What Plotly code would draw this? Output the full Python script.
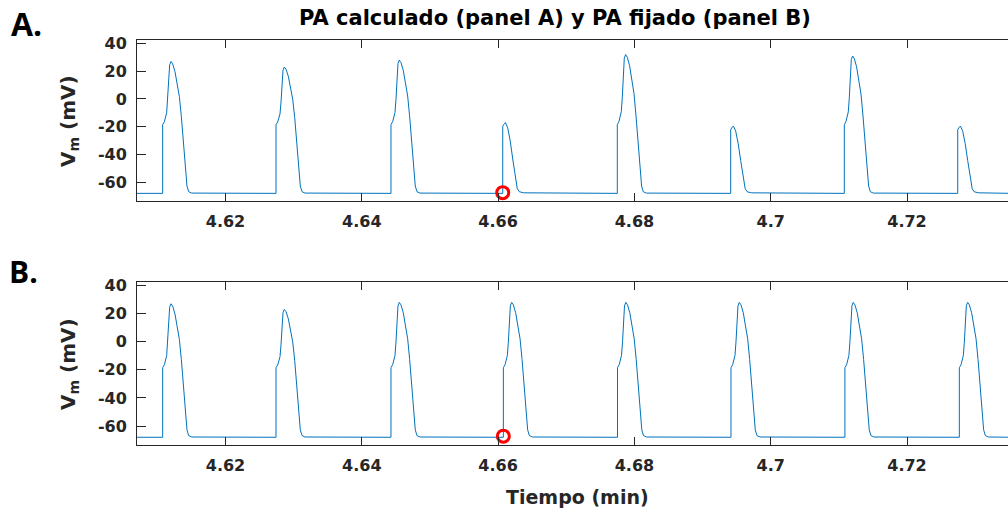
import plotly.graph_objects as go

W, H = 1008, 512

# Spike onset times (min) and peak membrane potential (mV) for each panel
onsets_a = [4.61078, 4.62741, 4.64428, 4.66068, 4.67749, 4.69413, 4.71080, 4.72744]
peaks_a = [27, 23, 28, -17, 32, -19.5, 31, -19.5]
onsets_b = [4.61078, 4.62741, 4.64428, 4.66077, 4.67752, 4.69417, 4.71089, 4.72768]
peaks_b = [27, 23, 28, 28, 28, 28, 28, 28]

# Highlighted stimulus instant in each panel
mark_a_t, mark_a_v = [4.66068], [-67.5]
mark_b_t, mark_b_v = [4.66077], [-67.2]

rest_mv = -68.0
t_start, t_end = 4.6065, 4.7355

# Full action potential waveform: offset after onset (min) and voltage (mV)
full_dt = [0, 0, 0.000249, 0.000587, 0.000734, 0.000880, 0.001027, 0.001218,
           0.001467, 0.001805, 0.002157, 0.002451, 0.002744, 0.003038,
           0.003331, 0.003566, 0.003815, 0.004255]
full_v = [-68, -18.5, -16.4, -10.0, -0.8, 13.6, 24.4, 26.8,
          25.1, 19.6, 11.2, 1.6, -12.8, -29.6,
          -48.8, -62.7, -66.8, -67.8]
full_shoulder = -18.5

# Truncated (failed) response waveform
small_dt = [0, 0, 0.000147, 0.000396, 0.000734, 0.001101, 0.001467,
            0.001834, 0.002128, 0.002421, 0.003082]
small_v = [-68, -19.5, -18.0, -16.6, -20.5, -30.0, -43.0,
           -57.0, -64.5, -66.8, -67.6]


def spike_points(t0, peak):
    xs, ys = [], []
    if peak > 0:
        top = max(full_v)
        k = (peak - full_shoulder) / (top - full_shoulder)
        for dt, v in zip(full_dt, full_v):
            xs.append(t0 + dt)
            ys.append(full_shoulder + (v - full_shoulder) * k if v > full_shoulder else v)
    else:
        top = max(small_v)
        k = (peak - rest_mv) / (top - rest_mv)
        for dt, v in zip(small_dt, small_v):
            xs.append(t0 + dt)
            ys.append(rest_mv + (v - rest_mv) * k)
    return xs, ys


def build_trace(onsets, peaks):
    xs, ys = [t_start], [rest_mv]
    for t0, pk in zip(onsets, peaks):
        sx, sy = spike_points(t0, pk)
        xs += sx
        ys += sy
    xs.append(t_end)
    ys.append(rest_mv)
    return xs, ys


xa, ya = build_trace(onsets_a, peaks_a)
xb, yb = build_trace(onsets_b, peaks_b)

x_ticks = [4.62, 4.64, 4.66, 4.68, 4.70, 4.72]
x_labels = ["4.62", "4.64", "4.66", "4.68", "4.7", "4.72"]
y_ticks = [-60, -40, -20, 0, 20, 40]
y_labels = ["-60", "-40", "-20", "0", "20", "40"]

line_color = "#0072BD"
axis_color = "#262626"

circle = dict(symbol="circle-open", size=12, color="#FF0000",
              line=dict(width=3, color="#FF0000"))

fig = go.Figure()
fig.add_trace(go.Scatter(x=xa, y=ya, mode="lines", xaxis="x", yaxis="y",
                         line=dict(color=line_color, width=1), hoverinfo="skip"))
fig.add_trace(go.Scatter(x=mark_a_t, y=mark_a_v, mode="markers", xaxis="x", yaxis="y",
                         marker=circle, cliponaxis=False))
fig.add_trace(go.Scatter(x=xb, y=yb, mode="lines", xaxis="x2", yaxis="y2",
                         line=dict(color=line_color, width=1), hoverinfo="skip"))
fig.add_trace(go.Scatter(x=mark_b_t, y=mark_b_v, mode="markers", xaxis="x2", yaxis="y2",
                         marker=circle, cliponaxis=False))

tick_font = dict(family="DejaVu Sans", size=16, color=axis_color, weight="bold")
x_left = 137 / W
x_range = [4.607014, 4.734820]
y_range = [-73.5, 42.5]


def px_dom(top_px, bottom_px):
    return [1 - bottom_px / H, 1 - top_px / H]


xcommon = dict(range=x_range, domain=[x_left, 1], showline=True, linecolor=axis_color,
               linewidth=1, mirror="ticks", ticks="inside", ticklen=8, tickwidth=1,
               tickcolor=axis_color, tickvals=x_ticks, ticktext=x_labels,
               showgrid=False, zeroline=False, tickfont=tick_font, ticklabelstandoff=6,
               automargin=False)
ycommon = dict(range=y_range, showline=True, linecolor=axis_color, linewidth=1,
               ticks="inside", ticklen=9, tickwidth=1, tickcolor=axis_color,
               tickvals=y_ticks, ticktext=y_labels, showgrid=False, zeroline=False,
               tickfont=tick_font, ticklabelstandoff=6, automargin=False)

fig.update_layout(
    width=W, height=H,
    margin=dict(l=0, r=0, t=0, b=0, pad=0, autoexpand=False),
    paper_bgcolor="white", plot_bgcolor="white",
    showlegend=False,
    xaxis=dict(anchor="y", **xcommon),
    yaxis=dict(anchor="x", domain=px_dom(40, 201), **ycommon),
    xaxis2=dict(anchor="y2", **xcommon),
    yaxis2=dict(anchor="x2", domain=px_dom(282, 445), **ycommon),
)

label_font = dict(family="DejaVu Sans", size=20, color=axis_color, weight="bold")
annotations = [
    dict(text="PA calculado (panel A) y PA fijado (panel B)", x=555 / W, y=1 - 18 / H,
         font=dict(family="DejaVu Sans", size=21, color="#000000", weight="bold")),
    dict(text="A.", x=26 / W, y=1 - 23 / H,
         font=dict(family="Open Sans", size=32, color="#000000", weight="bold")),
    dict(text="B.", x=23 / W, y=1 - 271 / H,
         font=dict(family="Open Sans", size=30, color="#000000", weight="bold")),
    dict(text="V<sub>m</sub> (mV)", x=69 / W, y=1 - 121 / H, textangle=-90, font=label_font),
    dict(text="V<sub>m</sub> (mV)", x=69 / W, y=1 - 364 / H, textangle=-90, font=label_font),
    dict(text="Tiempo (min)", x=577 / W, y=1 - 497 / H,
         font=dict(family="DejaVu Sans", size=19, color=axis_color, weight="bold")),
]
for a in annotations:
    a.update(xref="paper", yref="paper", xanchor="center", yanchor="middle", showarrow=False)
fig.update_layout(annotations=annotations)

fig.write_html("out.html")
